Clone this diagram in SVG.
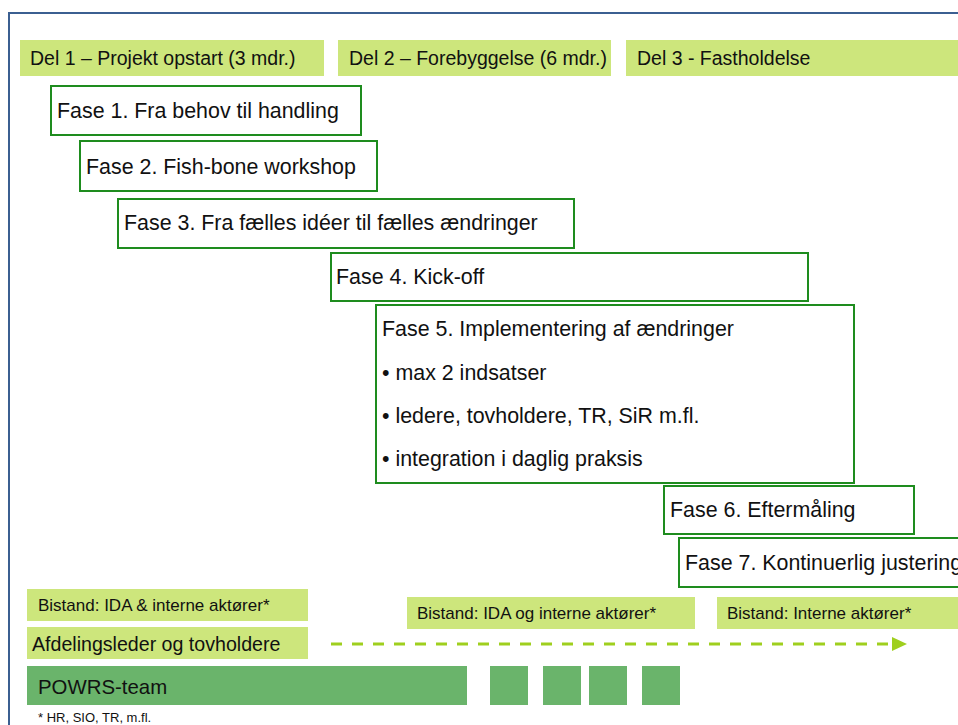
<svg xmlns="http://www.w3.org/2000/svg" width="958" height="725" viewBox="0 0 958 725">
  <style>
    text { font-family: "Liberation Sans", Arial, sans-serif; fill: #111; }
    .bar { fill: #cde67c; }
    .team { fill: #6ab46b; }
    .phase { fill: #ffffff; stroke: #1e8c1e; stroke-width: 2; }
    .ph { font-size: 21.4px; }
    .del { font-size: 19.5px; }
    .bis { font-size: 17px; }
    .dash { fill: none; stroke: #9fcf1e; stroke-width: 3; stroke-dasharray: 11 10; }
  </style>
  <defs>
    <marker id="arr" markerWidth="15" markerHeight="14" refX="0" refY="7" orient="auto" markerUnits="userSpaceOnUse">
      <path d="M0,0 L15,7 L0,14 Z" fill="#9fcf1e"/>
    </marker>
  </defs>
  <rect width="958" height="725" fill="#ffffff"/>
  <g id="frame">
    <path d="M9,725 L9,13 L958,13" fill="none" stroke="#3b5f91" stroke-width="2"/>
  </g>

  <g id="del1"><rect class="bar" x="20" y="40" width="304" height="36"/><text class="del" x="30" y="65">Del 1 – Projekt opstart (3 mdr.)</text></g>
  <g id="del2"><rect class="bar" x="338" y="40" width="273" height="36"/><text class="del" x="349" y="65">Del 2 – Forebyggelse (6 mdr.)</text></g>
  <g id="del3"><rect class="bar" x="626" y="40" width="332" height="36"/><text class="del" x="637" y="65">Del 3 - Fastholdelse</text></g>

  <g id="fase1"><rect class="phase" x="51" y="86" width="310" height="49"/><text class="ph" x="57" y="118">Fase 1. Fra behov til handling</text></g>
  <g id="fase2"><rect class="phase" x="80" y="141" width="297" height="50"/><text class="ph" x="86" y="174">Fase 2. Fish-bone workshop</text></g>
  <g id="fase3"><rect class="phase" x="118" y="199" width="456" height="49"/><text class="ph" x="124" y="230">Fase 3. Fra fælles idéer til fælles ændringer</text></g>
  <g id="fase4"><rect class="phase" x="331" y="253" width="477" height="48"/><text class="ph" x="336" y="284">Fase 4. Kick-off</text></g>
  <g id="fase5"><rect class="phase" x="376" y="305" width="478" height="178"/>
    <text class="ph" x="382" y="336">Fase 5. Implementering af ændringer</text>
    <text class="ph" x="382" y="380">• max 2 indsatser</text>
    <text class="ph" x="382" y="423">• ledere, tovholdere, TR, SiR m.fl.</text>
    <text class="ph" x="382" y="466">• integration i daglig praksis</text>
  </g>
  <g id="fase6"><rect class="phase" x="664" y="486" width="250" height="48"/><text class="ph" x="670" y="517">Fase 6. Eftermåling</text></g>
  <g id="fase7"><rect class="phase" x="679" y="538" width="300" height="49"/><text class="ph" x="685" y="570">Fase 7. Kontinuerlig justering</text></g>

  <g id="bistand1"><rect class="bar" x="27" y="589" width="281" height="32"/><text class="bis" x="38" y="611">Bistand: IDA &amp; interne aktører*</text></g>
  <g id="bistand2"><rect class="bar" x="407" y="597" width="288" height="32"/><text class="bis" x="417" y="619">Bistand: IDA og interne aktører*</text></g>
  <g id="bistand3"><rect class="bar" x="717" y="597" width="241" height="32"/><text class="bis" x="727" y="619">Bistand: Interne aktører*</text></g>

  <g id="afdeling"><rect class="bar" x="27" y="627" width="281" height="32"/><text x="32" y="651" font-size="19.6">Afdelingsleder og tovholdere</text></g>

  <g id="connectors">
    <line class="dash" x1="331" y1="644" x2="892" y2="644" marker-end="url(#arr)"/>
  </g>

  <g id="powrs"><rect class="team" x="27" y="666" width="440" height="39"/><text x="38" y="694" font-size="20.4">POWRS-team</text></g>
  <g id="powrs-blocks">
    <rect class="team" x="490" y="666" width="38" height="39"/>
    <rect class="team" x="543" y="666" width="38" height="39"/>
    <rect class="team" x="589" y="666" width="38" height="39"/>
    <rect class="team" x="642" y="666" width="38" height="39"/>
  </g>
  <g id="footnote"><text x="38" y="722" font-size="13">* HR, SIO, TR, m.fl.</text></g>
</svg>
